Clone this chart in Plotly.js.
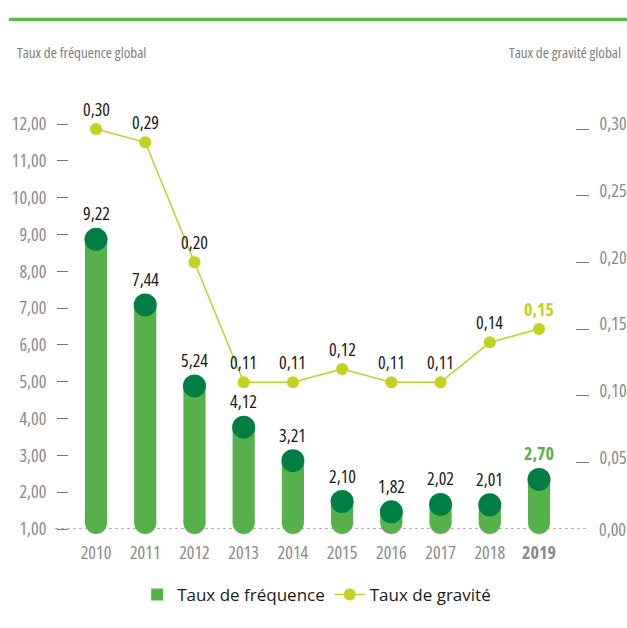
<!DOCTYPE html>
<html><head><meta charset="utf-8">
<script src="https://cdn.plot.ly/plotly-3.0.1.min.js"></script>
<style>
html,body{margin:0;padding:0;background:#fff}
#chart{width:627px;height:628px}
svg text:not(.legendtext){font-stretch:75% !important;}
</style>
</head><body><div id="chart"></div>
<script>
const years = ['2010','2011','2012','2013','2014','2015','2016','2017','2018','2019'];
const frequence = [9.22, 7.44, 5.24, 4.12, 3.21, 2.10, 1.82, 2.02, 2.01, 2.70];
const gravite = [0.30, 0.29, 0.20, 0.11, 0.11, 0.12, 0.11, 0.11, 0.14, 0.15];
const leftTicks = [1,2,3,4,5,6,7,8,9,10,11,12];
const rightTicks = [0, 0.05, 0.10, 0.15, 0.20, 0.25, 0.30];

const W = 627, H = 628;
const COND = '"Open Sans", sans-serif';
const LEG = '"Open Sans", sans-serif';
const C_BAR = '#57b14b', C_CAP = '#007f45', C_LINE = '#c3d21c', C_GRAY = '#8a8a8a', C_DARK = '#1a1a1a';

const plotTop = 124, plotBot = 529;
const yRange = [1, 12];
const pxPerUnit = (plotBot - plotTop) / (yRange[1] - yRange[0]);
const y2Range = [0, 0.30 * (plotBot - plotTop) / (plotBot - 129)];
const fmt = v => v.toFixed(2).replace('.', ',');
const last = years.length - 1;

const capY = frequence.map(v => v - 13 / pxPerUnit);          // cap circle centre
const bottomC = years.map(() => yRange[0] + 6 / pxPerUnit);    // rounded bottom centre

const traces = [
  {type:'bar', name:'Taux de fréquence', x: years, base: bottomC, y: capY.map((c, i) => c - bottomC[i]),
   width: 0.45, marker:{color: C_BAR}, cliponaxis:false, hoverinfo:'skip'},
  {type:'scatter', mode:'markers', x: years, y: bottomC, showlegend:false,
   marker:{color: C_BAR, size: 22}, cliponaxis:false, hoverinfo:'skip'},
  {type:'scatter', mode:'markers', x: years, y: capY, showlegend:false,
   marker:{color: C_CAP, size: 23}, cliponaxis:false, hoverinfo:'skip'},
  {type:'scatter', mode:'lines+markers', name:'Taux de gravité', x: years, y: gravite, yaxis:'y2',
   line:{color: C_LINE, width:1.5}, marker:{color: C_LINE, size: 12}, cliponaxis:false, hoverinfo:'skip'}
];

const annotations = [];
frequence.forEach((v, i) => annotations.push({
  x: i, y: v, xref:'x', yref:'y', yshift: 13, showarrow:false, yanchor:'middle',
  text: i === last ? '<b>' + fmt(v) + '</b>' : fmt(v),
  font:{family: COND, size: 18, color: i === last ? C_BAR : C_DARK}
}));
gravite.forEach((v, i) => annotations.push({
  x: i, y: v, xref:'x', yref:'y2', yshift: 20, showarrow:false, yanchor:'middle',
  text: i === last ? '<b>' + fmt(v) + '</b>' : fmt(v),
  font:{family: COND, size: 18, color: i === last ? C_LINE : C_DARK}
}));
annotations.push({xref:'paper', yref:'paper', x: 15/W, y: 1 - 52/H, xanchor:'left', yanchor:'middle',
  showarrow:false, text:'Taux de fréquence global', font:{family: COND, size: 15, color:'#808080'}});
annotations.push({xref:'paper', yref:'paper', x: 623/W, y: 1 - 52/H, xanchor:'right', yanchor:'middle',
  showarrow:false, text:'Taux de gravité global', font:{family: COND, size: 15, color:'#808080'}});
annotations.push({xref:'paper', yref:'y2', x: 597/W, y: rightTicks[0], xanchor:'left', yanchor:'middle',
  showarrow:false, text: fmt(rightTicks[0]), font:{family: COND, size: 18, color: C_GRAY}});

const layout = {
  width: W, height: H, margin:{l:0, r:0, t:0, b:0, autoexpand:false},
  paper_bgcolor:'#fff', plot_bgcolor:'rgba(0,0,0,0)',
  showlegend: true,
  legend:{orientation:'h', x: 0.505, xanchor:'center', y: 1 - 595/H, yanchor:'middle',
    font:{family: LEG, size: 17, color: C_DARK}, traceorder:'normal'},
  xaxis:{type:'category', domain:[71.4/W, 563.6/W], anchor:'y', range:[-0.5, 9.5],
    tickvals: years, ticktext: years.map((y, i) => i === last ? '<b>' + y + '</b>' : y),
    ticks:'', showgrid:false, zeroline:false, showline:false, automargin:false,
    ticklabelstandoff: 11, tickfont:{family: COND, size: 18, color: C_GRAY}},
  yaxis:{domain:[1 - plotBot/H, 1 - plotTop/H], range: yRange, anchor:'free', position: 68/W,
    tickvals: leftTicks, ticktext: leftTicks.map(fmt), ticks:'outside', ticklen: 11, tickwidth: 1,
    tickcolor:'#777', showgrid:false, zeroline:false, showline:false, automargin:false,
    ticklabelstandoff: 7, tickfont:{family: COND, size: 18, color: C_GRAY}},
  yaxis2:{overlaying:'y', side:'right', range: y2Range, anchor:'free', position: 575/W,
    tickvals: rightTicks.slice(1), ticktext: rightTicks.slice(1).map(fmt), ticks:'outside', ticklen: 13, tickwidth: 1,
    tickcolor:'#777', showgrid:false, zeroline:false, showline:false, automargin:false,
    ticklabelstandoff: 7, ticklabelshift: -5, tickfont:{family: COND, size: 18, color: C_GRAY}},
  shapes:[
    {type:'line', xref:'paper', yref:'y', x0: 55/W, x1: 588/W, y0: yRange[0], y1: yRange[0],
     line:{color:'#9a9a9a', width:1.5, dash:'3px,3px'}, layer:'below'},
    {type:'line', xref:'paper', yref:'paper', x0: 9/W, x1: 1, y0: 1 - 19.5/H, y1: 1 - 19.5/H,
     line:{color:'#5ab94b', width:3.5}}
  ],
  annotations: annotations
};

Plotly.newPlot('chart', traces, layout, {displayModeBar:false, staticPlot:true});
</script></body></html>
